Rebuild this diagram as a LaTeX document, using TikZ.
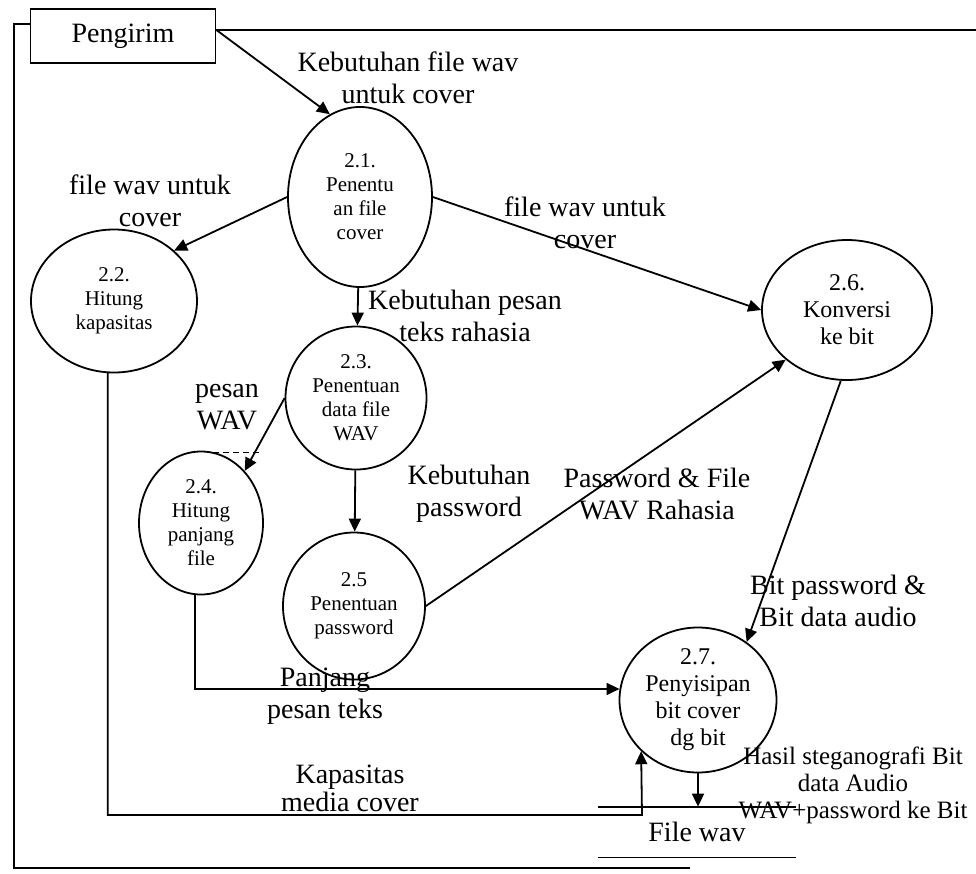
\documentclass[tikz,border=0pt]{standalone}
\usepackage{fontspec}
\setmainfont{Liberation Serif}
\usetikzlibrary{shapes.geometric,arrows.meta}

\begin{document}
\begin{tikzpicture}[x=0.5pt,y=-0.5pt,
    line width=0.9pt,
    font=\fontsize{14}{16}\selectfont,
    proc/.style={ellipse,draw,align=center,inner sep=-3pt,
                 font=\fontsize{10.5}{12}\selectfont},
    bigproc/.style={proc,font=\fontsize{12}{13.5}\selectfont},
    ext/.style={draw,minimum width=92.5pt,minimum height=27pt,inner sep=1pt},
    flow/.style={align=center,inner sep=0pt},
    ar/.style={-{Triangle[length=6.5pt,width=6pt]}}]

  \fill[white] (0,0) rectangle (976,874);
  \useasboundingbox (0,0) rectangle (976,874);

  % external entity and processes
  \node[ext] (peng) at (123,36) {Pengirim};
  \node[proc,minimum width=72pt,minimum height=90pt] (p21) at (360,197)
       {2.1.\\Penentu\\an file\\cover};
  \node[proc,minimum width=83pt,minimum height=71.5pt] (p22) at (114,301)
       {2.2.\\Hitung\\kapasitas};
  \node[proc,minimum width=70.5pt,minimum height=71.5pt] (p23) at (356,398)
       {2.3.\\Penentuan\\data file\\WAV};
  \node[proc,minimum width=62pt,minimum height=71.5pt] (p24) at (201,523)
       {2.4.\\Hitung\\panjang\\file};
  \node[proc,minimum width=71pt,minimum height=73.5pt] (p25) at (354,606)
       {2.5\\Penentuan\\password};
  \node[bigproc,minimum width=85pt,minimum height=70pt] (p26) at (847,310)
       {2.6.\\Konversi\\ke bit};
  \node[bigproc,minimum width=78.5pt,minimum height=72.5pt] (p27) at (698,700)
       {2.7.\\Penyisipan\\bit cover\\dg bit};

  % data store
  \node[minimum width=98.5pt,minimum height=24.5pt,inner sep=0pt] (fwav)
       at (697,832) {File wav};
  \draw (fwav.north west) -- (fwav.north east);
  \draw (fwav.south west) -- (fwav.south east);

  % flow labels
  \node[flow] (lkfw) at (408,78)  {Kebutuhan file wav\\untuk cover};
  \node[flow] (lfw1) at (150,201) {file wav untuk\\cover};
  \node[flow] (lfw2) at (585,223) {file wav untuk\\cover};
  \node[flow] (lkps) at (465,316) {Kebutuhan pesan\\teks rahasia};
  \node[flow] (lpw)  at (227,407) {pesan\\WAV};
  \node[flow] (lkpw) at (469,494) {Kebutuhan\\password};
  \node[flow] (lpf)  at (657,494) {Password \& File\\WAV Rahasia};
  \node[flow] (lbit) at (838,601) {Bit password \&\\Bit data audio};
  \node[flow] (lpj)  at (325,696) {Panjang\\pesan teks};
  \node[flow,font=\fontsize{14}{14}\selectfont] (lkap) at (350,788)
       {Kapasitas\\media cover};
  \node[flow,font=\fontsize{12.5}{13.5}\selectfont] (lhas) at (853,785)
       {Hasil steganografi Bit\\data Audio\\WAV+password ke Bit};

  % flows
  \coordinate (pout) at ([yshift=3pt]peng.east);
  \coordinate (edgeR) at (976,31);
  \coordinate (fbl) at (14,868);
  \coordinate (fbr) at (690,868);
  \coordinate (kapbend) at (642,815);

  \draw (pout) -- (pout -| edgeR);
  \draw ([yshift=6pt]peng.west) -| (fbl) -- (fbr);
  \draw[ar] (pout) -- (p21.110);
  \draw[ar] (p21.west) -- (p22.40);
  \draw[ar] (p21) -- (p23);
  \draw[ar] (p21.east) -- (p26.west);
  \draw[ar] (p23.west) -- (p24.50);
  \draw[ar] (p23) -- (p25);
  \draw[ar] (p25.east) -- (p26.219);
  \draw[ar] (p26.265) -- (p27.50);
  \draw[ar] (p24.265) |- (p27.172);
  \draw[ar] (p22.265) |- (kapbend) -- (p27.222);
  \draw[ar] (p27.south) -- (p27.south |- fwav.north);
  \draw[densely dashed,line width=0.4pt] (213,452) -- (262,452);
\end{tikzpicture}
\end{document}
